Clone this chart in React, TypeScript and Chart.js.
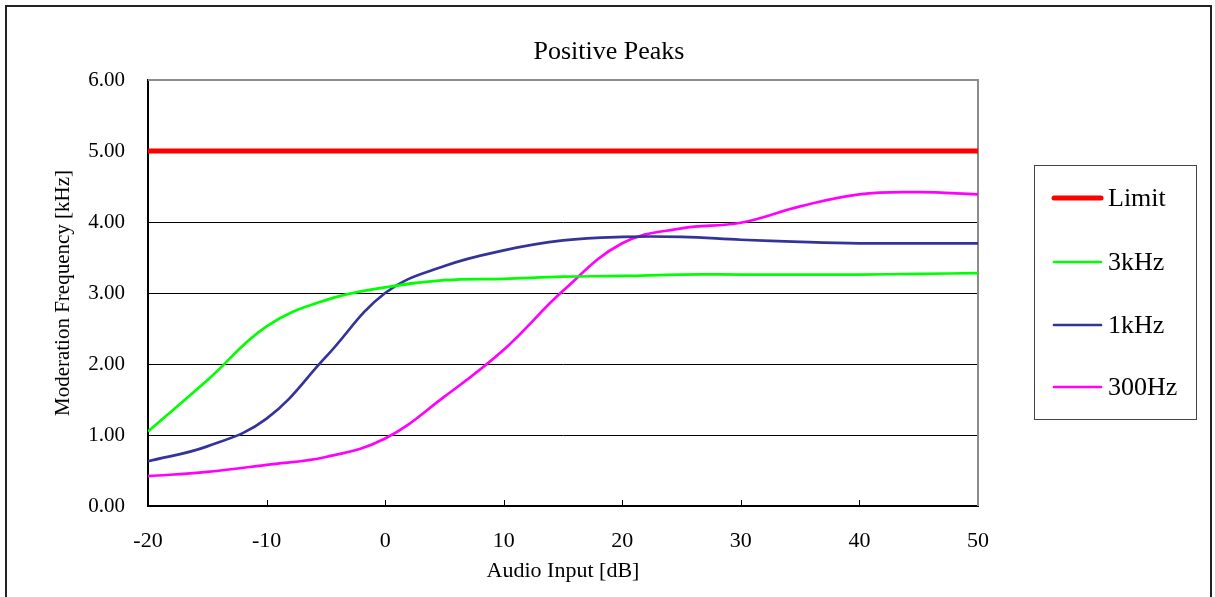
import React, { useEffect, useRef } from "react";
import { Chart, registerables } from "chart.js";

Chart.register(...registerables);

// Audio input levels [dB]
const audioInput = [-20, -15, -10, -5, 0, 5, 10, 15, 20, 25, 30, 35, 40, 45, 50];
// Moderation frequency [kHz]
const limitValues = [5, 5, 5, 5, 5, 5, 5, 5, 5, 5, 5, 5, 5, 5, 5];
const khz3Values = [1.05, 1.77, 2.53, 2.9, 3.08, 3.18, 3.2, 3.23, 3.24, 3.26, 3.26, 3.26, 3.26, 3.27, 3.28];
const khz1Values = [0.63, 0.84, 1.23, 2.1, 3.0, 3.38, 3.6, 3.74, 3.79, 3.79, 3.75, 3.72, 3.7, 3.7, 3.7];
const hz300Values = [0.42, 0.48, 0.58, 0.69, 0.95, 1.54, 2.2, 3.03, 3.7, 3.91, 3.99, 4.22, 4.39, 4.42, 4.39];

const seriesLabels = ["Limit", "3kHz", "1kHz", "300Hz"];
const seriesColors = ["#ff0000", "#00ff00", "#333399", "#ff00ff"];
const seriesWidths = [5, 2.7, 2.7, 2.7];

const titleText = "Positive Peaks";
const xTitle = "Audio Input [dB]";
const yTitle = "Moderation Frequency [kHz]";

const FONT = "'Liberation Serif', 'Times New Roman', serif";

const toPoints = (ys: number[]) => audioInput.map((x, i) => ({ x, y: ys[i] }));

const framePlugin = {
  id: "frame",
  beforeDatasetsDraw(chart: any) {
    const { ctx, chartArea } = chart;
    const xs = chart.scales.x;
    ctx.save();
    // inside tick marks on x axis
    ctx.strokeStyle = "#000";
    ctx.lineWidth = 1;
    for (let v = -10; v <= 40; v += 10) {
      const px = Math.round(xs.getPixelForValue(v)) + 0.5;
      ctx.beginPath();
      ctx.moveTo(px, chartArea.bottom);
      ctx.lineTo(px, chartArea.bottom - 6);
      ctx.stroke();
    }
    // grey top/right border of plot area
    ctx.strokeStyle = "#8c8c8c";
    ctx.lineWidth = 2;
    ctx.beginPath();
    ctx.moveTo(chartArea.left, chartArea.top);
    ctx.lineTo(chartArea.right, chartArea.top);
    ctx.lineTo(chartArea.right, chartArea.bottom);
    ctx.stroke();
    ctx.restore();
  },
  afterDraw(chart: any) {
    const { ctx } = chart;
    ctx.save();
    // title
    ctx.fillStyle = "#000";
    ctx.font = `26px ${FONT}`;
    ctx.textAlign = "center";
    ctx.textBaseline = "middle";
    ctx.fillText(titleText, 609, 52);
    // legend
    const bx = 1034.5, by = 165.5, bw = 162, bh = 254;
    ctx.strokeStyle = "#444";
    ctx.lineWidth = 1;
    ctx.strokeRect(bx, by, bw, bh);
    const ys = [198, 262, 325, 387];
    chart.data.datasets.forEach((ds: any, i: number) => {
      const y = ys[i];
      ctx.strokeStyle = ds.borderColor;
      ctx.lineWidth = ds.borderWidth;
      ctx.lineCap = "round";
      ctx.beginPath();
      ctx.moveTo(1054, y);
      ctx.lineTo(1101, y);
      ctx.stroke();
      ctx.fillStyle = "#000";
      ctx.font = `26px ${FONT}`;
      ctx.textAlign = "left";
      ctx.textBaseline = "middle";
      ctx.fillText(ds.label, 1108, y + 1);
    });
    ctx.restore();
  },
};

export default function App() {
  const canvasRef = useRef<HTMLCanvasElement>(null);

  useEffect(() => {
    if (!canvasRef.current) return;
    const seriesData = [limitValues, khz3Values, khz1Values, hz300Values];
    const chart = new Chart(canvasRef.current, {
      type: "line",
      data: {
        datasets: seriesData.map((vals, i) => ({
          label: seriesLabels[i],
          data: toPoints(vals),
          borderColor: seriesColors[i],
          backgroundColor: seriesColors[i],
          borderWidth: seriesWidths[i],
          pointRadius: 0,
          pointHoverRadius: 0,
          tension: 0.4,
          fill: false,
        })),
      },
      options: {
        responsive: false,
        animation: false,
        devicePixelRatio: 1,
        layout: { padding: { top: 80, right: 237, left: 0, bottom: 0 } },
        plugins: {
          legend: { display: false },
          title: { display: false },
          tooltip: { enabled: false },
        },
        scales: {
          x: {
            type: "linear",
            min: -20,
            max: 50,
            ticks: {
              stepSize: 10,
              color: "#000",
              padding: 22,
              font: { family: FONT, size: 22 },
            },
            grid: { display: false, drawTicks: false },
            border: { display: true, color: "#000", width: 2 },
            title: {
              display: true,
              text: xTitle,
              color: "#000",
              font: { family: FONT, size: 22 },
              padding: { top: 0, bottom: 13 },
            },
            afterFit(scale: any) {
              scale.height = 91;
            },
          },
          y: {
            type: "linear",
            min: 0,
            max: 6,
            ticks: {
              stepSize: 1,
              color: "#000",
              padding: 23,
              font: { family: FONT, size: 21 },
              callback: (v: any) => Number(v).toFixed(2),
            },
            grid: {
              drawTicks: false,
              lineWidth: 1,
              color: (ctx: any) =>
                ctx.tick && (ctx.tick.value === 0 || ctx.tick.value === 6) ? "rgba(0,0,0,0)" : "#000",
            },
            border: { display: true, color: "#000", width: 2 },
            title: {
              display: true,
              text: yTitle,
              color: "#000",
              font: { family: FONT, size: 21 },
              padding: { top: 51, bottom: 0 },
            },
            afterFit(scale: any) {
              scale.width = 148;
            },
          },
        },
      },
      plugins: [framePlugin],
    });
    return () => chart.destroy();
  }, []);

  return (
    <div
      style={{
        position: "fixed",
        left: 0,
        top: 0,
        width: 1215,
        height: 597,
        overflow: "hidden",
        background: "#fff",
      }}
    >
      <div
        style={{
          position: "absolute",
          left: 5,
          top: 5,
          width: 1207,
          height: 700,
          boxSizing: "border-box",
          border: "2px solid #222",
        }}
      />
      <canvas
        ref={canvasRef}
        width={1215}
        height={597}
        style={{ position: "absolute", left: 0, top: 0, width: 1215, height: 597 }}
      />
    </div>
  );
}
